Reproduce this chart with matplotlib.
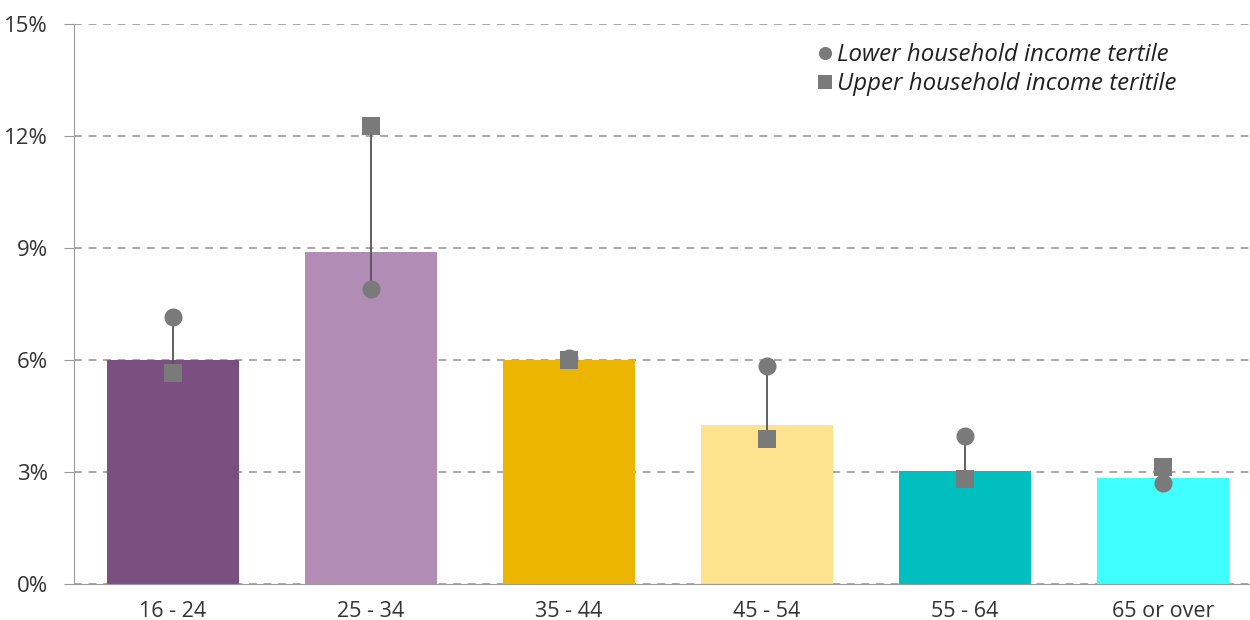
import matplotlib
matplotlib.use("Agg")
import matplotlib.pyplot as plt
from matplotlib.lines import Line2D

plt.rcParams['font.family'] = ['Open Sans', 'DejaVu Sans']

categories = ["16 - 24", "25 - 34", "35 - 44", "45 - 54", "55 - 64", "65 or over"]
overall = [6.0, 8.9, 6.0, 4.25, 3.03, 2.85]
lower_tertile = [7.15, 7.9, 6.05, 5.85, 3.97, 2.7]
upper_tertile = [5.65, 12.27, 6.0, 3.88, 2.8, 3.13]
bar_colors = ["#7B4F7F", "#B18DB6", "#ECB600", "#FDE38D", "#00BFBE", "#40FFFF"]
yticks = [0, 3, 6, 9, 12, 15]
ytick_labels = ["0%", "3%", "6%", "9%", "12%", "15%"]

W, H = 1250, 620
fig = plt.figure(figsize=(W / 100, H / 100), dpi=100)
ax = fig.add_axes([74 / W, 36 / H, (1250 - 74) / W, (584 - 24) / H])

x = list(range(len(categories)))
ax.bar(x, overall, width=0.667, color=bar_colors, zorder=2)

for xi, lo, up in zip(x, lower_tertile, upper_tertile):
    ax.plot([xi, xi], [lo, up], color="#555555", lw=1.3, zorder=3)
ax.plot(x, lower_tertile, 'o', color="#7A7A7A", markersize=13, markeredgewidth=0, zorder=4)
ax.plot(x, upper_tertile, 's', color="#7A7A7A", markersize=13, markeredgewidth=0, zorder=5)

ax.set_xlim(-0.5, -0.5 + (1250 - 74) / 198)
ax.set_ylim(0, 15)
ax.set_yticks(yticks)
ax.set_yticklabels(ytick_labels)
ax.set_xticks(x)
ax.set_xticklabels(categories)
ax.yaxis.grid(True, linestyle=(0, (4, 3.5)), color="#A8A8A8", lw=1.4, zorder=1)
ax.set_axisbelow(True)

for s in ["top", "right"]:
    ax.spines[s].set_visible(False)
ax.spines["left"].set_color("#9A9A9A")
ax.spines["bottom"].set_color("#9A9A9A")
ax.tick_params(axis='y', length=7, color="#9A9A9A", labelsize=16, labelcolor="#333333", pad=12)
ax.tick_params(axis='x', length=0, labelsize=15.5, labelcolor="#333333", pad=12)

handles = [
    Line2D([], [], marker='o', color="#7A7A7A", linestyle='none', markersize=9.5, markeredgewidth=0),
    Line2D([], [], marker='s', color="#7A7A7A", linestyle='none', markersize=9.5, markeredgewidth=0),
]
leg = ax.legend(handles, ["Lower household income tertile", "Upper household income teritile"],
                loc='upper right', bbox_to_anchor=((1176 - 74) / 1176, (584 - 43) / 560), frameon=False,
                handlelength=0.55, handletextpad=0.2, labelspacing=0.22, borderaxespad=0.0,
                borderpad=0.0, prop={'style': 'italic', 'size': 17.3})
for t in leg.get_texts():
    t.set_color("#222222")

fig.savefig("out.png", dpi=100)
